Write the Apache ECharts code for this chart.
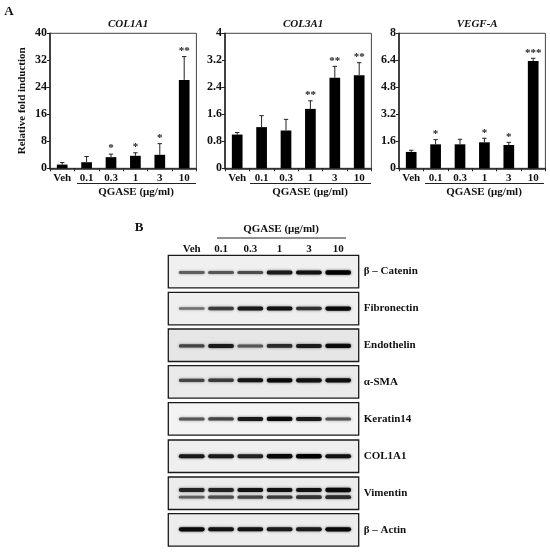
<!DOCTYPE html>
<html>
<head>
<meta charset="utf-8">
<script src="https://cdn.jsdelivr.net/npm/echarts@6/dist/echarts.min.js"></script>
<style>html,body{margin:0;padding:0;background:#fff}#c{width:550px;height:554px}</style>
</head>
<body>
<div id="c"></div>
<script>
const doses = ['Veh','0.1','0.3','1','3','10'];
const chartNames = ['COL1A1','COL3A1','VEGF-A'];
const col1a1Mean = [1.1,1.8,3.3,3.7,4.0,26.2];
const col1a1Upper = [1.7,3.5,4.2,4.6,7.3,33.1];
const col1a1Sig = ['','','*','*','*','**'];
const col3a1Mean = [1.0,1.22,1.12,1.76,2.68,2.76];
const col3a1Upper = [1.06,1.56,1.45,2.0,3.02,3.13];
const col3a1Sig = ['','','','**','**','**'];
const vegfMean = [0.97,1.42,1.42,1.54,1.38,6.36];
const vegfUpper = [1.07,1.7,1.72,1.78,1.54,6.52];
const vegfSig = ['','*','','*','*','***'];
const axisMax = [40,4,8];
const axisStep = [8,0.8,1.6];
const doseLabel = 'QGASE (μg/ml)';
const blotNames = ['β – Catenin','Fibronectin','Endothelin','α-SMA','Keratin14','COL1A1','Vimentin','β – Actin'];
const blotCatenin = [[.45,.5,.55,.85,.9,1]];
const blotFibronectin = [[.35,.65,.85,.9,.72,.95]];
const blotEndothelin = [[.6,.85,.5,.75,.85,.95]];
const blotSMA = [[.6,.65,.88,.95,.9,.92]];
const blotKeratin = [[.5,.6,.85,.95,.85,.5]];
const blotCOL = [[.85,.85,.8,.95,1,.9]];
const blotVimentin = [[.8,.8,.9,.9,.9,.95],[.45,.55,.6,.65,.7,.75]];
const blotActin = [[.95,.9,.9,.85,.85,.95]];
const blotBands = [blotCatenin,blotFibronectin,blotEndothelin,blotSMA,blotKeratin,blotCOL,blotVimentin,blotActin];
const blotBandHeight = [[.47],[.5],[.48],[.55],[.5],[.5],[.6,.38],[.52]];
const blotBg = ['#f0f0f0','#efefef','#e6e6e6','#eaeaea','#f3f3f3','#efefef','#ececec','#ededed'];

const serif = '"Liberation Serif","Times New Roman",serif';
const ink = '#111';
const barData = [[col1a1Mean,col1a1Upper,col1a1Sig],[col3a1Mean,col3a1Upper,col3a1Sig],[vegfMean,vegfUpper,vegfSig]];
const barLeft = [50,225,399];
const barWidth = 146.4;
const grids=[],xAxes=[],yAxes=[],series=[],titles=[],graphics=[];

barData.forEach((d,i)=>{
  grids.push({left:barLeft[i],width:barWidth,top:33.3,height:135,show:true,borderColor:'#444',borderWidth:1,backgroundColor:'transparent'});
  xAxes.push({type:'category',gridIndex:i,data:doses,axisLine:{lineStyle:{color:'#222',width:1.5}},
    axisTick:{show:true,length:3,lineStyle:{color:'#222'}},
    axisLabel:{color:ink,fontFamily:serif,fontWeight:'bold',fontSize:11,margin:4,interval:0},splitLine:{show:false}});
  yAxes.push({type:'value',gridIndex:i,min:0,max:axisMax[i],interval:axisStep[i],
    axisLine:{show:true,lineStyle:{color:'#222',width:1.5}},axisTick:{show:true,length:3,lineStyle:{color:'#222'}},
    axisLabel:{color:ink,fontFamily:serif,fontWeight:'bold',fontSize:12,margin:3,
      formatter:v=>String(Math.round(v*10)/10)},splitLine:{show:false},
    ...(i===0?{name:'Relative fold induction',nameLocation:'middle',nameGap:22,nameRotate:90,
      nameTextStyle:{color:ink,fontFamily:serif,fontWeight:'bold',fontSize:11}}:{})});
  series.push({type:'bar',xAxisIndex:i,yAxisIndex:i,data:d[0],barWidth:10.7,itemStyle:{color:'#000'},silent:true,z:2});
  series.push({type:'custom',xAxisIndex:i,yAxisIndex:i,silent:true,z:3,clip:false,
    data:d[1].map((u,k)=>[k,d[0][k],u]),encode:{x:0,y:[1,2]},
    renderItem:(p,api)=>{
      const k=api.value(0),b=api.coord([k,api.value(1)]),t=api.coord([k,api.value(2)]);
      const sig=d[2][k];
      const kids=[
        {type:'line',shape:{x1:b[0],y1:b[1],x2:t[0],y2:t[1]},style:{stroke:'#222',lineWidth:1}},
        {type:'line',shape:{x1:t[0]-2.2,y1:t[1],x2:t[0]+2.2,y2:t[1]},style:{stroke:'#222',lineWidth:1}}];
      if(sig)kids.push({type:'text',x:t[0],y:t[1]-5.5,style:{text:sig,align:'center',verticalAlign:'middle',
        fontFamily:serif,fontWeight:'bold',fontSize:11,fill:'#222'}});
      return {type:'group',children:kids};
    }});
  titles.push({text:chartNames[i],left:barLeft[i]+barWidth/2,top:13,textAlign:'center',
    textStyle:{fontFamily:serif,fontWeight:'bold',fontStyle:'italic',fontSize:11,color:ink,lineHeight:12}});
});

// Western blots
const blotTop=[255.3,292.3,329,365.7,402.7,440,477,513.7];
blotBands.forEach((bands,p)=>{
  const g=grids.length;
  grids.push({left:168.3,width:190.4,top:blotTop[p],height:32.5,show:true,backgroundColor:blotBg[p],borderColor:'#1a1a1a',borderWidth:1.3});
  xAxes.push({type:'value',gridIndex:g,min:-0.8,max:5.7,show:false});
  yAxes.push({type:'value',gridIndex:g,min:0,max:1,show:false});
  const rows=[];
  bands.forEach((row,r)=>row.forEach((v,l)=>rows.push([l,blotBandHeight[p][r],v])));
  series.push({type:'custom',xAxisIndex:g,yAxisIndex:g,silent:true,z:3,data:rows,encode:{x:0,y:1},
    renderItem:(ps,api)=>{
      const c=api.coord([api.value(0),api.value(1)]),v=api.value(2);
      const w=api.size([0.88,0])[0],h=1.6+2.8*v;
      const k=Math.round(170*(1-v));
      return {type:'rect',shape:{x:c[0]-w/2,y:c[1]-h/2,width:w,height:h,r:h/2},
        style:{fill:`rgb(${k},${k},${k})`,shadowBlur:2.5,shadowColor:`rgba(${k},${k},${k},0.7)`}};
    }});
  series.push({type:'custom',xAxisIndex:g,yAxisIndex:g,silent:true,z:4,clip:false,data:[[0,blotBandHeight[p][0]]],encode:{x:0,y:1},
    renderItem:(ps,api)=>{
      const c=api.coord([5.7,0.5]);
      return {type:'text',x:c[0]+5,y:c[1],style:{text:blotNames[p],align:'left',verticalAlign:'middle',
        fontFamily:serif,fontWeight:'bold',fontSize:11,fill:ink}};
    }});
  if(p===0){
    series.push({type:'custom',xAxisIndex:g,yAxisIndex:g,silent:true,z:4,clip:false,data:doses.map((s,i)=>[i,1]),encode:{x:0,y:1},
      renderItem:(ps,api)=>{
        const c=api.coord([api.value(0),1]);
        return {type:'text',x:c[0],y:c[1]-6.6,style:{text:doses[api.value(0)],align:'center',verticalAlign:'middle',
          fontFamily:serif,fontWeight:'bold',fontSize:11,fill:ink}};
      }});
  }
});

function txt(t,x,y,size){return {type:'text',x,y,style:{text:t,align:'center',verticalAlign:'middle',fontFamily:serif,fontWeight:'bold',fontSize:size,fill:ink}};}
function rule(x1,x2,y){return {type:'line',shape:{x1,y1:y,x2,y2:y},style:{stroke:'#222',lineWidth:1}};}
graphics.push(txt('A',9,12,13),txt('B',139,228,13),
  txt(doseLabel,136,192,11),txt(doseLabel,310,192,11),txt(doseLabel,484,192,11),txt(doseLabel,281,229.5,11),
  rule(77,196,183.5),rule(250,371,183.5),rule(425,544,183.5),rule(217,346,238));

const chart=echarts.init(document.getElementById('c'),null,{renderer:'canvas'});
chart.setOption({animation:false,backgroundColor:'#fff',title:titles,grid:grids,xAxis:xAxes,yAxis:yAxes,series,graphic:graphics,tooltip:{show:false}});
</script>
</body>
</html>
